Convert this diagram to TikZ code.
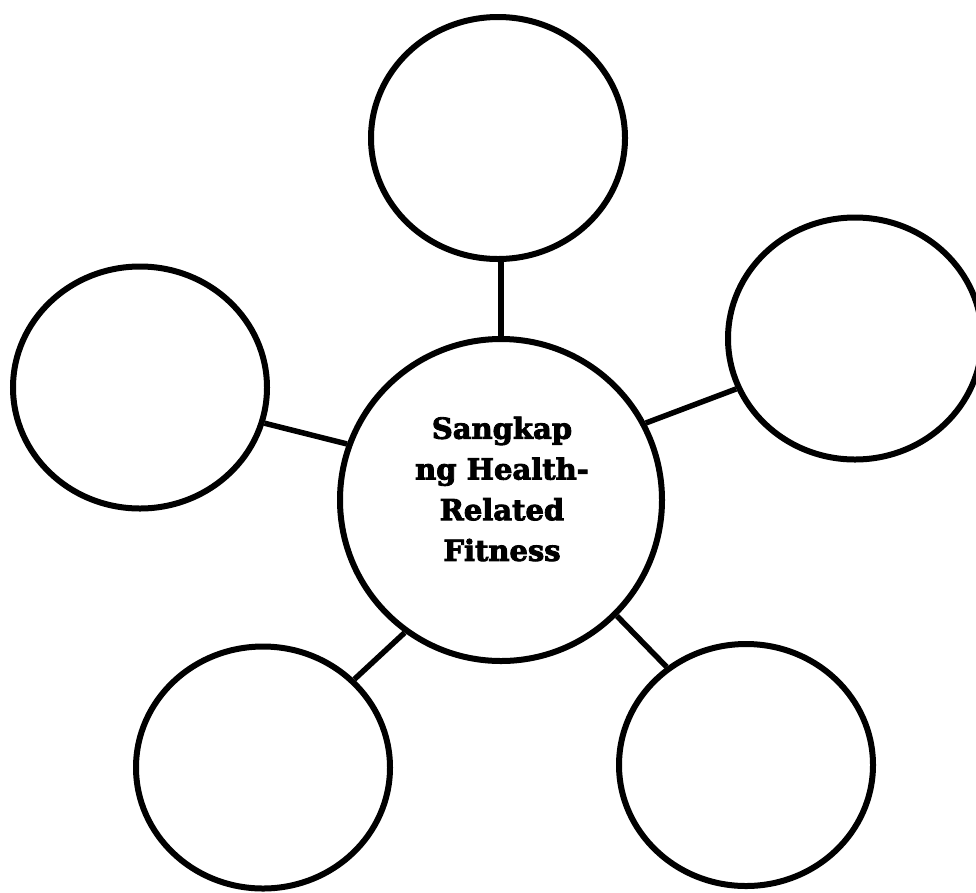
\documentclass[tikz,border=0pt]{standalone}
\usepackage{fontspec}
\setmainfont{DejaVu Serif}[BoldFeatures={FakeBold=3}]
\usetikzlibrary{shapes.geometric}
\begin{document}
\begin{tikzpicture}[x=1pt,y=-1pt,
  bubble/.style={draw=black, line width=6pt, ellipse, minimum width=254pt, minimum height=242pt, inner sep=0pt},
  hub/.style={draw=black, line width=6pt, circle, minimum size=322pt, inner sep=0pt},
  link/.style={draw=black, line width=5.5pt},
  title/.style={font=\bfseries\fontsize{29}{40.7}\selectfont, align=center, inner sep=0pt}]
\path[use as bounding box, clip] (0,0) rectangle (976,892);
\fill[white] (0,0) rectangle (976,892);
\node[hub] (c) at (501,500) {};
\node[bubble] (t) at (498,138) {};
\node[bubble] (r) at (855,338.5) {};
\node[bubble] (l) at (140,387.5) {};
\node[bubble] (bl) at (263,767.5) {};
\node[bubble] (br) at (746,765) {};
\node[title] (lbl) at (502,489) {Sangkap\\ng Health-\\Related\\Fitness};
\draw[link] (c.north) -- (c.north |- t.south);
\draw[link] (c.28) -- (r.203);
\draw[link] (c.160) -- (l.344);
\draw[link] (c.234) -- (bl.44);
\draw[link] (c.315) -- (br.129);
\end{tikzpicture}
\end{document}
